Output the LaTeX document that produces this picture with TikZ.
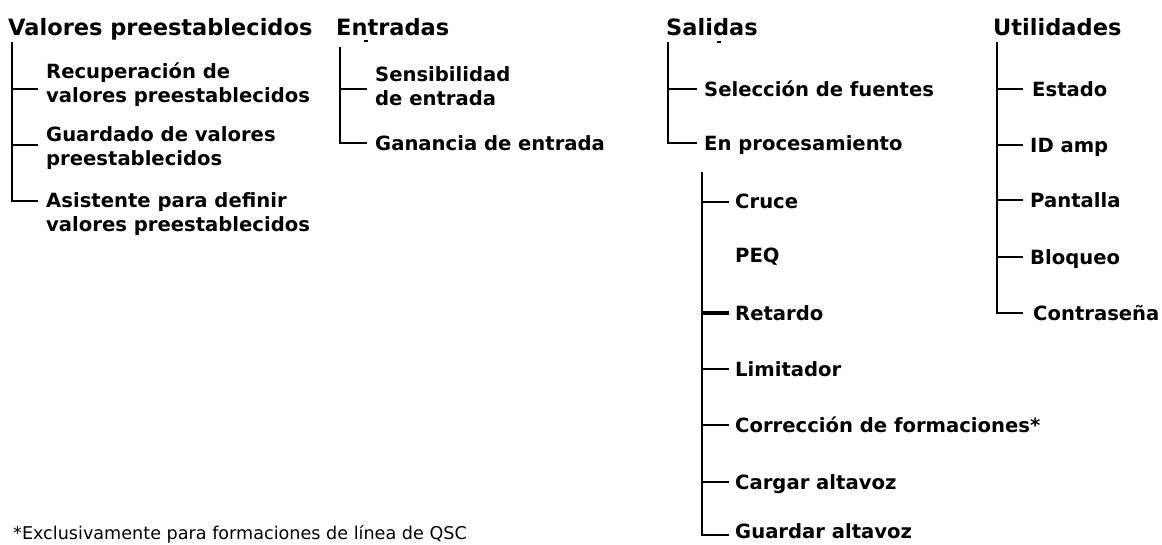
\documentclass[tikz,border=0pt]{standalone}
\usepackage{fontspec}
\setmainfont{DejaVu Sans}
\newcommand{\twolines}[2]{\begin{tabular}[t]{@{}l@{}}#1\\#2\end{tabular}}
\tikzset{
  head/.style={anchor=base west, inner sep=0pt, font=\fontsize{22.5}{26}\selectfont\bfseries},
  item/.style={anchor=base west, inner sep=0pt, font=\fontsize{19.6}{24.5}\selectfont\bfseries},
  foot/.style={anchor=base west, inner sep=0pt, font=\fontsize{17.6}{20}\selectfont},
  conn/.style={line width=2.4pt, line join=miter},
  thickconn/.style={line width=3.2pt},
  tick/.style={line width=1.2pt}
}
\begin{document}
\begin{tikzpicture}[x=1pt,y=-1pt]
\useasboundingbox (0,0) rectangle (1162,544);
% headings
\node[head] (hv) at (8,35) {Valores preestablecidos};
\node[head] (he) at (336,35) {Entradas};
\node[head] (hs) at (666,35) {Salidas};
\node[head] (hu) at (993,35) {Utilidades};
% Valores
\node[item] (rec) at (46,78) {\twolines{Recuperación de}{valores preestablecidos}};
\node[item] (gua) at (46,141) {\twolines{Guardado de valores}{preestablecidos}};
\node[item] (asi) at (46,207) {\twolines{Asistente para definir}{valores preestablecidos}};
\coordinate (vtop) at (12,42);
\coordinate (e1) at ([shift={(-8,11)}]rec.base west);
\coordinate (e2) at ([shift={(-8,4)}]gua.base west);
\coordinate (e3) at ([shift={(-8,-6)}]asi.base west);
\draw[conn] (vtop) |- (e3);
\draw[conn] (vtop |- e1) -- (e1);
\draw[conn] (vtop |- e2) -- (e2);
% Entradas
\node[item] (sen) at (375,81) {\twolines{Sensibilidad}{de entrada}};
\node[item] (gan) at (375,150) {Ganancia de entrada};
\coordinate (etop) at (340,47);
\coordinate (f1) at ([shift={(-8,8)}]sen.base west);
\coordinate (f2) at ([shift={(-8,-7)}]gan.base west);
\draw[conn] (etop) |- (f2);
\draw[conn] (etop |- f1) -- (f1);
\coordinate (tk1) at (364,41);
\coordinate (tk1b) at (368,41);
\draw[tick] (tk1) -- (tk1b);
% Salidas
\node[item] (sel) at (704,96) {Selección de fuentes};
\node[item] (pro) at (704,150) {En procesamiento};
\coordinate (stop) at (668,42);
\coordinate (g1) at ([shift={(-7,-7)}]sel.base west);
\coordinate (g2) at ([shift={(-7,-7)}]pro.base west);
\draw[conn] (stop) |- (g2);
\draw[conn] (stop |- g1) -- (g1);
\coordinate (tk2) at (717,42);
\coordinate (tk2b) at (721,42);
\draw[tick] (tk2) -- (tk2b);
% En procesamiento subtree
\node[item] (cru) at (735,208) {Cruce};
\node[item] (peq) at (735,262) {PEQ};
\node[item] (ret) at (735,320) {Retardo};
\node[item] (lim) at (735,376) {Limitador};
\node[item] (cor) at (735,432) {Corrección de formaciones*};
\node[item] (car) at (735,489) {Cargar altavoz};
\node[item] (gal) at (735,538) {Guardar altavoz};
\coordinate (ptop) at (702,172);
\coordinate (h1) at ([shift={(-6,-6)}]cru.base west);
\coordinate (h3) at ([shift={(-6,-7)}]ret.base west);
\coordinate (h4) at ([shift={(-6,-7)}]lim.base west);
\coordinate (h5) at ([shift={(-6,-7)}]cor.base west);
\coordinate (h6) at ([shift={(-6,-7)}]car.base west);
\coordinate (h7) at ([shift={(-6,-3)}]gal.base west);
\draw[conn] (ptop) |- (h7);
\draw[conn] (ptop |- h1) -- (h1);
\draw[thickconn] (ptop |- h3) -- (h3);
\draw[conn] (ptop |- h4) -- (h4);
\draw[conn] (ptop |- h5) -- (h5);
\draw[conn] (ptop |- h6) -- (h6);
% Utilidades
\node[item] (est) at (1032,96) {Estado};
\node[item] (ida) at (1030,152) {ID amp};
\node[item] (pan) at (1030,207) {Pantalla};
\node[item] (blo) at (1030,264) {Bloqueo};
\node[item] (con) at (1033,320) {Contraseña};
\coordinate (utop) at (997,42);
\coordinate (u1) at ([shift={(-9,-7)}]est.base west);
\coordinate (u2) at ([shift={(-7,-7)}]ida.base west);
\coordinate (u3) at ([shift={(-7,-7)}]pan.base west);
\coordinate (u4) at ([shift={(-7,-7)}]blo.base west);
\coordinate (u5) at ([shift={(-10,-7)}]con.base west);
\draw[conn] (utop) |- (u5);
\draw[conn] (utop |- u1) -- (u1);
\draw[conn] (utop |- u2) -- (u2);
\draw[conn] (utop |- u3) -- (u3);
\draw[conn] (utop |- u4) -- (u4);
% footnote
\node[foot] (fn) at (13,539) {*Exclusivamente para formaciones de línea de QSC};
\end{tikzpicture}
\end{document}
